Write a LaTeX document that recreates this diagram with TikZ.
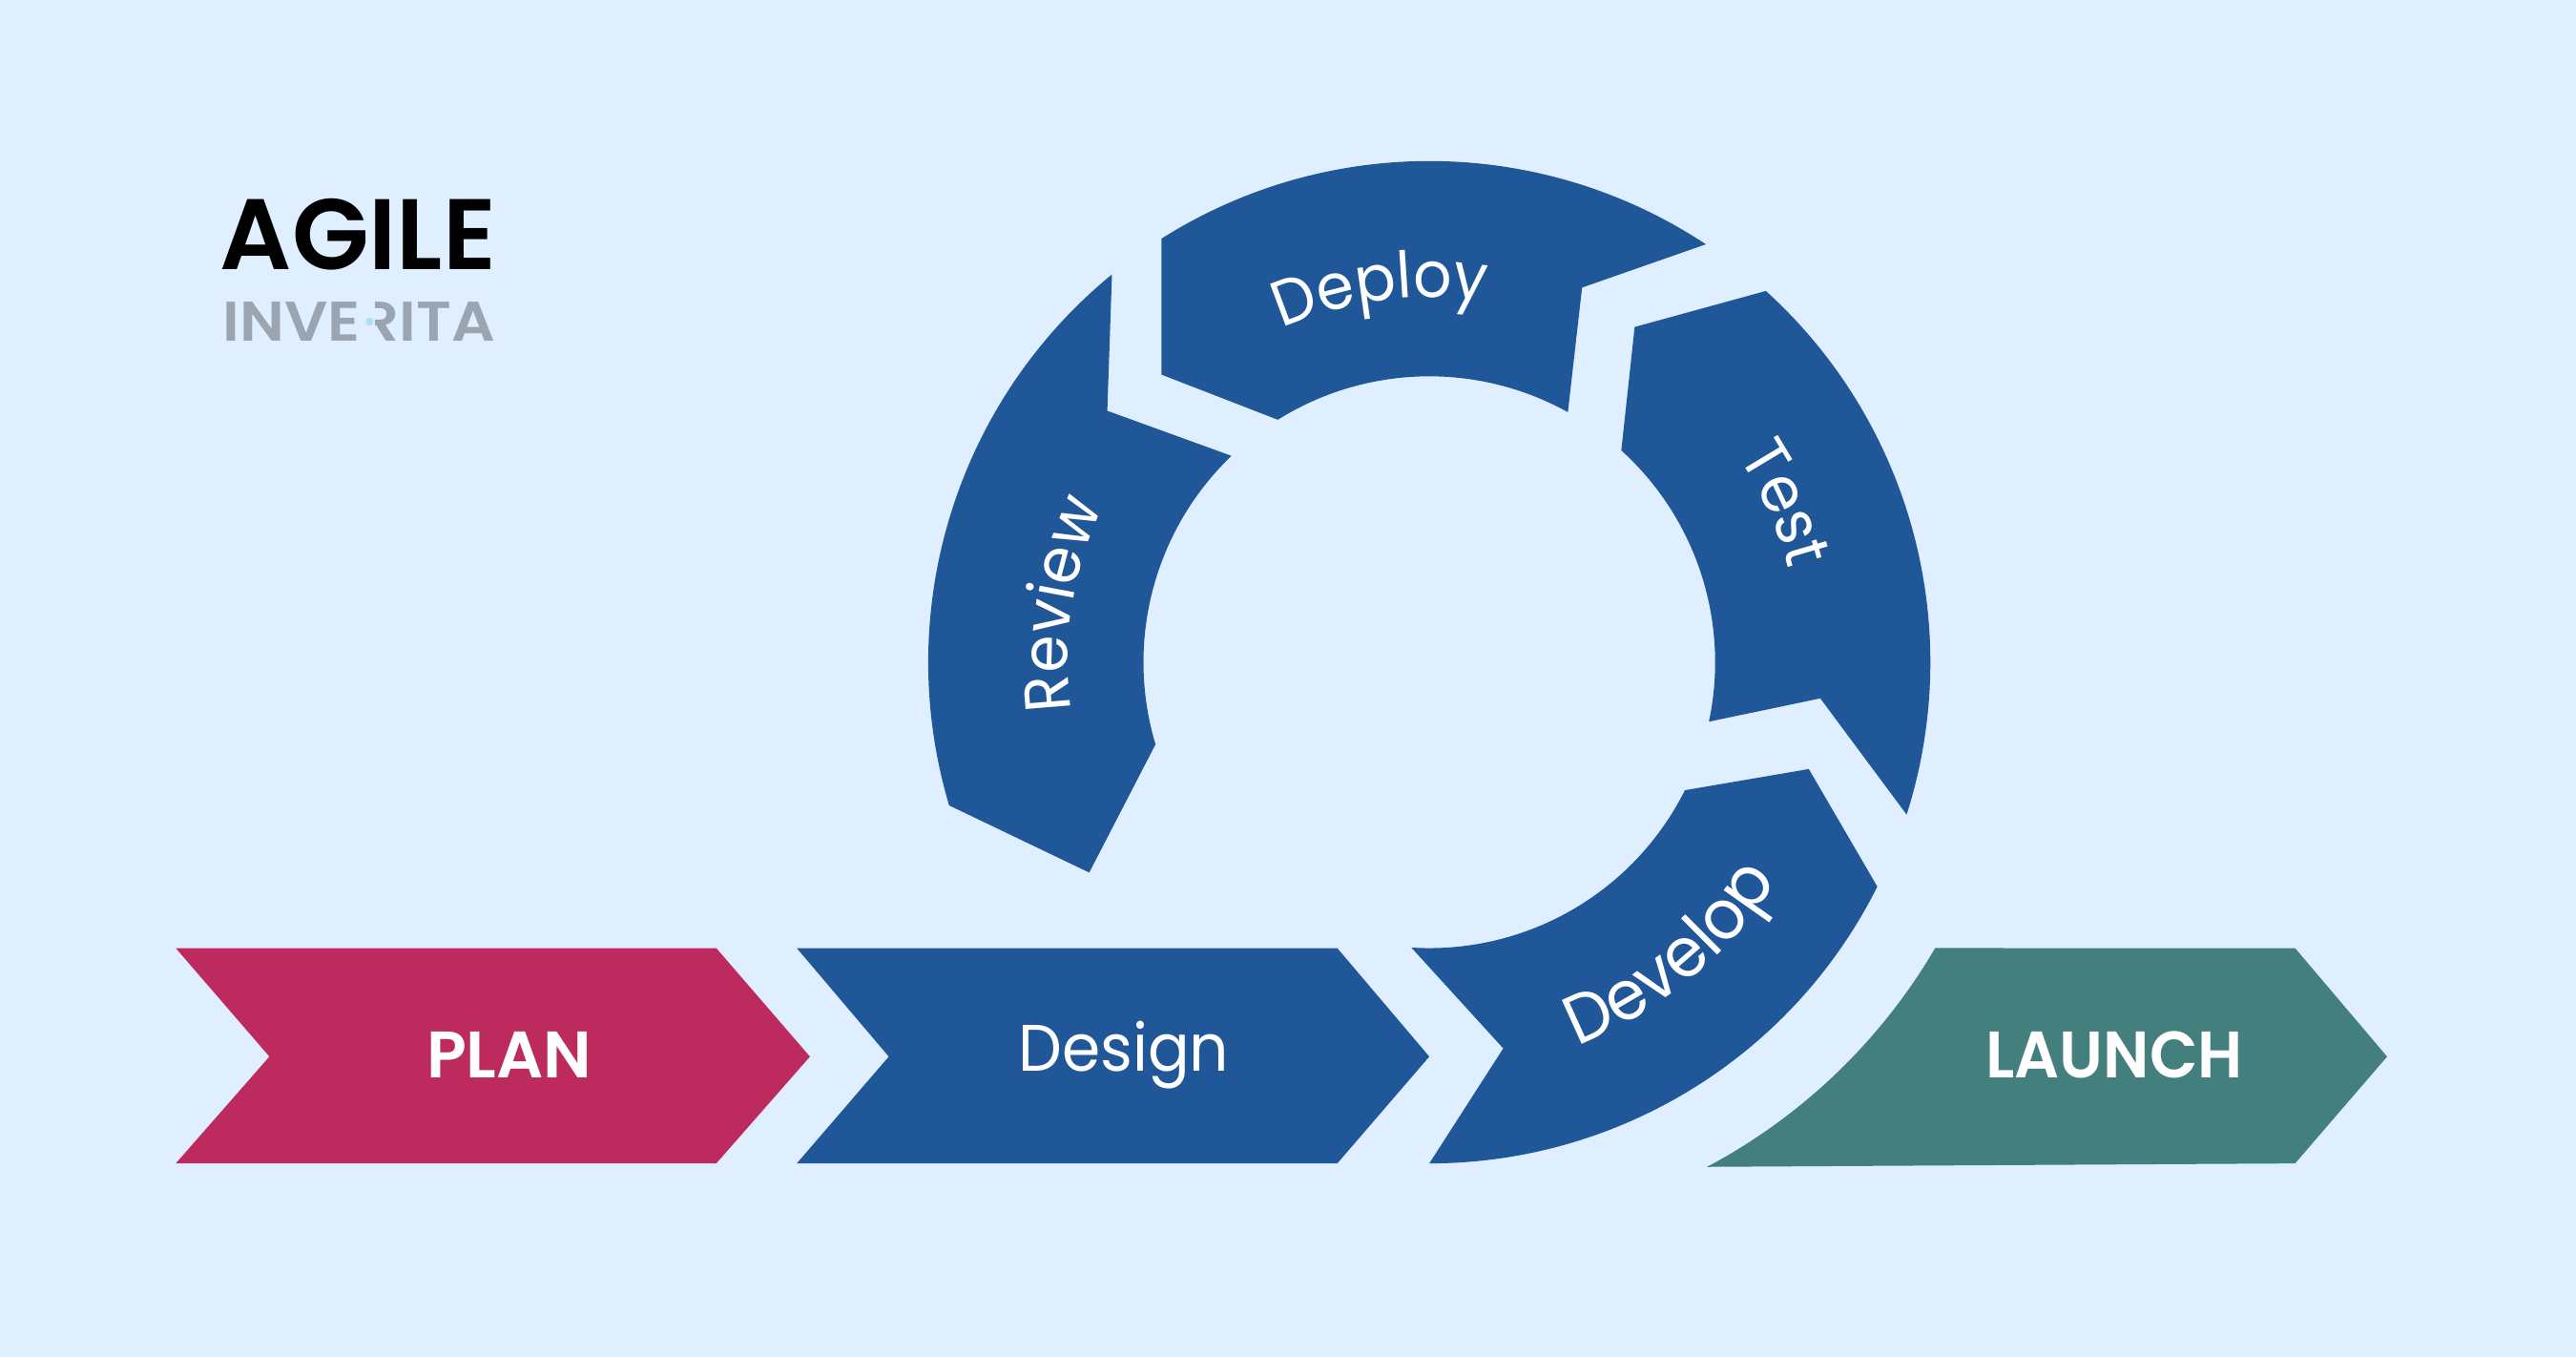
\documentclass[tikz,border=0pt]{standalone}
\usepackage{fontspec}
\setmainfont{Poppins}
\newfontfamily\semif[UprightFont={* SemiBold}]{Poppins}
\newfontfamily\launchf[UprightFont={* SemiBold},FakeStretch=0.955]{Poppins}
\newfontfamily\narrowf[FakeStretch=0.94]{Poppins}
\newfontfamily\logof[UprightFont={* SemiBold},FakeStretch=1.09]{Poppins}
\usetikzlibrary{calc,decorations.text}
\definecolor{bgc}{HTML}{E0EFFF}
\definecolor{ringc}{HTML}{205799}
\definecolor{planc}{HTML}{BC2A5E}
\definecolor{launchc}{HTML}{437F7C}
\definecolor{grayc}{HTML}{9AA5B1}
\definecolor{dotc}{HTML}{ADDFF5}
\newcommand\decofont{\narrowf\fontsize{39}{39}\selectfont\color{white}}
\newcommand\decofontb{\narrowf\fontsize{42}{42}\selectfont\color{white}}
\tikzset{
  ringseg/.style={fill=ringc},
  bannerlabel/.style={text=white,font=\semif\fontsize{40}{40}\selectfont,inner sep=0pt,anchor=center},
  ringlabel/.style={decorate,decoration={text along path,text align=center,text={|\decofont|#1}}},
  ringlabelb/.style={decorate,decoration={text along path,text align=center,text={|\decofontb|#1}}}
}
\begin{document}
\begin{tikzpicture}[x=1pt,y=1pt]
\useasboundingbox (0,0) rectangle (1568,-825.8);
\fill[bgc] (0,0) rectangle (1568,-825.8);
\coordinate (c) at (870,-403);
\coordinate (cl) at (874,-399);
% banners
\fill[planc] (107,-577) -- (436,-577) -- (493,-643) -- (436,-708) -- (107,-708) -- (164,-643) -- cycle;
\fill[ringc] (485,-577) -- (814,-577) -- (870,-643) -- (814,-708) -- (485,-708) -- (541,-643) -- cycle;
\fill[launchc] ($(cl)+(-62.05:352.2pt)$) arc[start angle=-62.05,end angle=-30.35,radius=352.2pt] -- (1397,-577) -- (1453,-643) -- (1397,-708) -- cycle;
% ring
\fill[ringseg] ($(c)+(122.3:305pt)$) arc[start angle=122.3,end angle=56.5,radius=305pt] -- (963,-175) -- ($(c)+(61:174pt)$) arc[start angle=61,end angle=122,radius=174pt] -- (707,-228) -- cycle;
\fill[ringseg] ($(c)+(47.8:305pt)$) arc[start angle=47.8,end angle=-17.7,radius=305pt] -- (1108,-425) -- ($(c)+(-12:174pt)$) arc[start angle=-12,end angle=47.8,radius=174pt] -- (995,-199) -- cycle;
\fill[ringseg] ($(c)+(-26.6:305pt)$) arc[start angle=-26.6,end angle=-90,radius=305pt] -- (915,-638) -- ($(c)+(-93.6:174pt)$) arc[start angle=-93.6,end angle=-26.6,radius=174pt] -- (1101,-468) -- cycle;
\fill[ringseg] ($(c)+(129.3:305pt)$) arc[start angle=129.3,end angle=196.6,radius=305pt] -- (663,-531) -- ($(c)+(196.7:174pt)$) arc[start angle=196.7,end angle=133.8,radius=174pt] -- (674,-250) -- cycle;
% ring labels
\path[ringlabel=Deploy] ($(c)+(147.5:222pt)$) arc[start angle=147.5,end angle=47.5,radius=222pt];
\path[ringlabel=Test] ($(c)+(74:226pt)$) arc[start angle=74,end angle=-26,radius=226pt];
\path[ringlabel=Review] ($(c)+(221:220pt)$) arc[start angle=221,end angle=121,radius=220pt];
\path[ringlabelb=Develop] ($(c)+(-90.5:250pt)$) arc[start angle=-90.5,end angle=-10.5,radius=250pt];
% banner labels
\node[bannerlabel] (plan) at (310,-642) {PLAN};
\node[bannerlabel,font=\narrowf\fontsize{40}{40}\selectfont] (design) at (684,-642) {Design};
\node[bannerlabel,font=\launchf\fontsize{40}{40}\selectfont] (launch) at (1287,-642) {LAUNCH};
% logo
\node[inner sep=0pt,font=\semif\fontsize{61}{61}\selectfont,text=black] (agile) at (218,-142.5) {AGILE};
\node[inner sep=0pt,font=\logof\fontsize{34}{34}\selectfont,text=grayc] (inverita) at (218.5,-196) {INVERITA};
\fill[bgc] (220.5,-180) rectangle (228.2,-212);
\fill[dotc] (225,-195.7) circle[radius=2.4pt];
\end{tikzpicture}
\end{document}
